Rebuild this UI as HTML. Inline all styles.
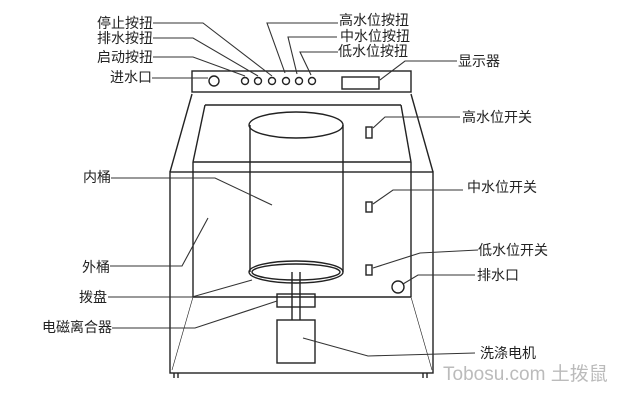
<!DOCTYPE html>
<html><head><meta charset="utf-8"><style>
html,body{margin:0;padding:0;background:#fff;}
svg{display:block}
text{font-family:"Liberation Sans","Noto Sans CJK SC",sans-serif;font-size:14px;fill:#222;}
.e{text-anchor:end}
</style></head><body>
<svg width="640" height="400" viewBox="0 0 640 400" xmlns="http://www.w3.org/2000/svg">
<g fill="none" stroke="#222" stroke-width="1.4">
<rect x="192" y="71" width="219" height="21"/>
<rect x="342" y="77" width="37" height="12"/>
<circle cx="214" cy="81" r="5"/>
<circle cx="245" cy="81" r="3.5"/><circle cx="258" cy="81" r="3.5"/><circle cx="272" cy="81" r="3.5"/>
<circle cx="286" cy="81" r="3.5"/><circle cx="299" cy="81" r="3.5"/><circle cx="312" cy="81" r="3.5"/>
<line x1="192" y1="94" x2="170" y2="172"/>
<line x1="411" y1="94" x2="433" y2="172"/>
<line x1="205" y1="105" x2="401" y2="105"/>
<line x1="205" y1="105" x2="193" y2="162"/>
<line x1="401" y1="105" x2="411" y2="162"/>
<line x1="193" y1="162" x2="411" y2="162"/>
<rect x="170" y="172" width="263" height="201"/>
<line x1="193" y1="162" x2="193" y2="297"/>
<line x1="411" y1="162" x2="411" y2="297"/>
<line x1="193" y1="297" x2="411" y2="297"/>
<line x1="193" y1="297" x2="172" y2="370" stroke-width="0.6"/>
<line x1="411" y1="297" x2="432" y2="370" stroke-width="0.6"/>
<line x1="174" y1="373" x2="174" y2="378"/><line x1="178" y1="373" x2="178" y2="378"/>
<line x1="423" y1="373" x2="423" y2="378"/><line x1="427" y1="373" x2="427" y2="378"/>
<ellipse cx="296" cy="125" rx="47" ry="13"/>
<line x1="250" y1="125" x2="250" y2="272"/>
<line x1="343" y1="125" x2="343" y2="272"/>
<ellipse cx="296" cy="272" rx="47" ry="11"/>
<ellipse cx="296" cy="272" rx="44" ry="8"/>
<line x1="292" y1="272" x2="292" y2="320"/>
<line x1="300" y1="272" x2="300" y2="320"/>
<rect x="277" y="294" width="38" height="13"/>
<rect x="277" y="320" width="38" height="43"/>
<rect x="366" y="127" width="6" height="11"/>
<rect x="366" y="202" width="6" height="10"/>
<rect x="366" y="265" width="6" height="10"/>
<circle cx="398" cy="287" r="6"/>
</g>
<g fill="none" stroke="#333" stroke-width="1.1">
<polyline points="153,23 203,23 272,76"/>
<polyline points="153,38 193,38 258,76"/>
<polyline points="153,57 193,57 245,76"/>
<polyline points="152,78 208,78"/>
<polyline points="338,23 267,23 285,73"/>
<polyline points="337,37 288,37 297,74"/>
<polyline points="338,52 300,52 311,75"/>
<polyline points="457,61 405,61 380,80"/>
<polyline points="460,117 385,117 373,128"/>
<polyline points="463,190 393,190 373,204"/>
<polyline points="478,250 420,253 373,268"/>
<polyline points="475,275 418,275 403,284"/>
<polyline points="475,353 368,356 303,338"/>
<polyline points="111,178 215,178 272,205"/>
<polyline points="110,266 182,266 208,218"/>
<polyline points="108,297 192,297 252,280"/>
<polyline points="112,328 195,328 277,301"/>
</g>
<text class="e" x="153" y="28">停止按扭</text>
<text class="e" x="153" y="43">排水按扭</text>
<text class="e" x="153" y="62">启动按扭</text>
<text class="e" x="152" y="82">进水口</text>
<text x="339" y="25">高水位按扭</text>
<text x="340" y="41">中水位按扭</text>
<text x="338" y="56">低水位按扭</text>
<text x="458" y="66">显示器</text>
<text x="462" y="122">高水位开关</text>
<text x="467" y="192">中水位开关</text>
<text x="478" y="255">低水位开关</text>
<text x="477" y="280">排水口</text>
<text x="480" y="358">洗涤电机</text>
<text class="e" x="111" y="182">内桶</text>
<text class="e" x="110" y="272">外桶</text>
<text class="e" x="107" y="302">拨盘</text>
<text class="e" x="112" y="332">电磁离合器</text>
<text x="443" y="380" style="font-size:19px;fill:#bbb">Tobosu.com 土拨鼠</text>
</svg>
</body></html>
